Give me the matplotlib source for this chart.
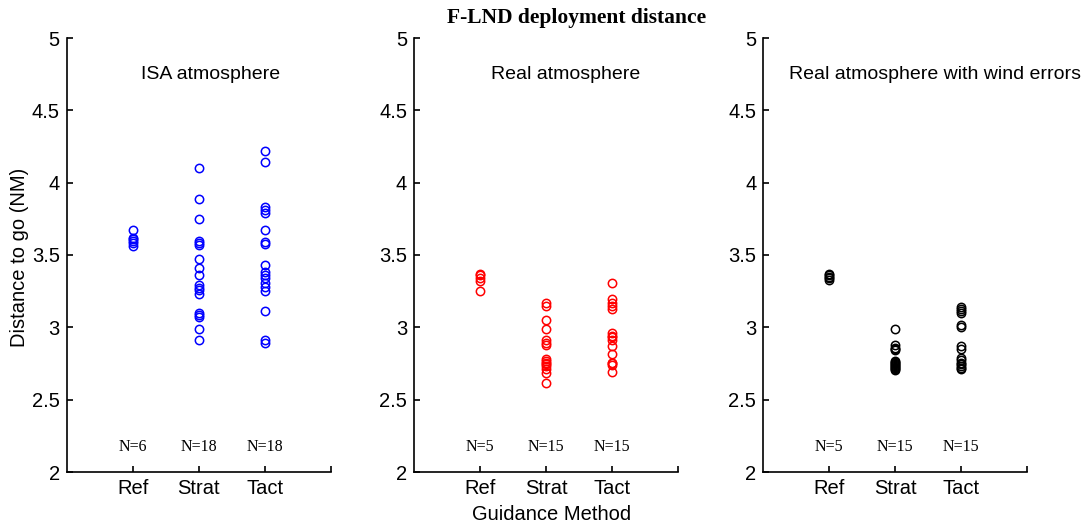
import matplotlib.pyplot as plt

methods = ["Ref", "Strat", "Tact"]
titles = ["ISA atmosphere", "Real atmosphere", "Real atmosphere with wind errors"]
colors = ["blue", "red", "black"]

isa_ref = [3.67, 3.62, 3.61, 3.60, 3.58, 3.56]
isa_strat = [4.10, 3.89, 3.75, 3.60, 3.585, 3.57, 3.47, 3.41, 3.36, 3.29, 3.27,
             3.26, 3.23, 3.10, 3.085, 3.07, 2.99, 2.91]
isa_tact = [4.22, 4.14, 3.83, 3.81, 3.79, 3.67, 3.59, 3.575, 3.43, 3.385, 3.36,
            3.34, 3.305, 3.28, 3.25, 3.11, 2.91, 2.89]

real_ref = [3.37, 3.36, 3.34, 3.32, 3.25]
real_strat = [3.165, 3.15, 3.05, 2.99, 2.91, 2.89, 2.875, 2.78, 2.765, 2.755,
              2.745, 2.73, 2.71, 2.685, 2.615]
real_tact = [3.305, 3.195, 3.17, 3.15, 3.13, 2.96, 2.94, 2.93, 2.91, 2.87,
             2.815, 2.755, 2.75, 2.74, 2.69]

wind_ref = [3.37, 3.36, 3.35, 3.34, 3.33]
wind_strat = [2.99, 2.875, 2.86, 2.85, 2.84, 2.77, 2.76, 2.75, 2.745, 2.74,
              2.73, 2.725, 2.72, 2.71, 2.705]
wind_tact = [3.14, 3.13, 3.11, 3.10, 3.015, 3.00, 2.87, 2.85, 2.79, 2.775,
             2.755, 2.745, 2.73, 2.72, 2.71]

panels = [[isa_ref, isa_strat, isa_tact],
          [real_ref, real_strat, real_tact],
          [wind_ref, wind_strat, wind_tact]]
title_x = [2.18, 2.3, 2.6]

W, H = 1085, 527
fig = plt.figure(figsize=(W / 100, H / 100), dpi=100)
plt.rcParams['font.family'] = ['Liberation Sans', 'DejaVu Sans']

lefts = [66.7, 414, 763.3]
for k, data in enumerate(panels):
    ax = fig.add_axes([lefts[k] / W, (H - 472) / H, 264 / W, 434 / H])
    for i, vals in enumerate(data):
        ax.plot([i + 1] * len(vals), vals, 'o', mfc='none', mec=colors[k],
                ms=6, mew=1.1)
        ax.text(i + 1, 2.17, "N=%d" % len(vals), ha='center', va='center',
                family='Liberation Serif', fontsize=11.5)
    ax.text(title_x[k], 4.745, titles[k], ha='center', va='center', fontsize=14)
    ax.set_xlim(0, 4)
    ax.set_ylim(2, 5)
    ax.set_xticks([1, 2, 3, 4])
    ax.set_xticklabels(methods + [""])
    ax.set_yticks([2, 2.5, 3, 3.5, 4, 4.5, 5])
    ax.set_yticklabels(["2", "2.5", "3", "3.5", "4", "4.5", "5"])
    ax.tick_params(direction='in', length=4, width=1.2, labelsize=14.5, pad=5)
    ax.spines['top'].set_visible(False)
    ax.spines['right'].set_visible(False)
    ax.spines['left'].set_linewidth(1.2)
    ax.spines['bottom'].set_linewidth(1.2)

fig.text(20 / W, 1 - 257 / H, "Distance to go (NM)", rotation=90,
         ha='center', va='center', fontsize=14.5)
fig.text(551.5 / W, 1 - 515 / H, "Guidance Method", ha='center', va='center',
         fontsize=14.5)
fig.text(577 / W, 1 - 18 / H, "F-LND deployment distance", ha='center', va='center',
         family='Liberation Serif', fontweight='bold', fontsize=15.5)

fig.savefig("out.png", dpi=100)
